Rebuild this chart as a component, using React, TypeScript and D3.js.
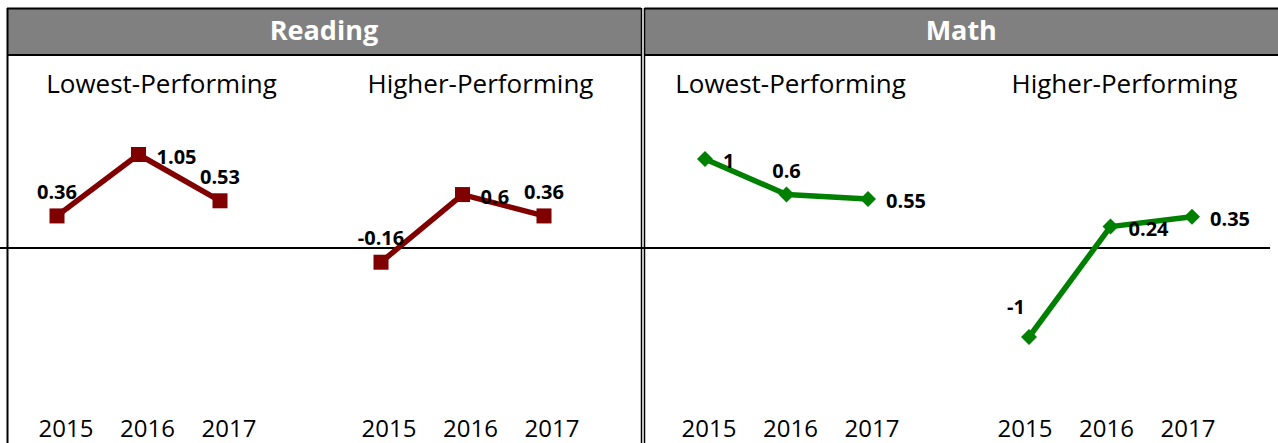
import React from "react";
import * as d3 from "d3";

const years = ["2015", "2016", "2017"];
const subjects = ["Reading", "Math"];
const groups = ["Lowest-Performing", "Higher-Performing"];
const readingLowest = [0.36, 1.05, 0.53];
const readingHigher = [-0.16, 0.6, 0.36];
const mathLowest = [1, 0.6, 0.55];
const mathHigher = [-1, 0.24, 0.35];

const panels = [
  { subject: 0, group: 0, values: readingLowest, place: ["above", "right", "above"], titleDx: 23, yearDx: 9 },
  { subject: 0, group: 1, values: readingHigher, place: ["above", "right", "above"], titleDx: 18, yearDx: 8 },
  { subject: 1, group: 0, values: mathLowest, place: ["right", "above", "right"], titleDx: 4, yearDx: 4 },
  { subject: 1, group: 1, values: mathHigher, place: ["aboveLeft", "right", "right"], titleDx: 14, yearDx: -4 },
];

const W = 1278;
const H = 443;
const FONT = "'Open Sans', 'DejaVu Sans', sans-serif";
const colors = ["#800000", "#008000"];

export default function App() {
  const y = d3.scaleLinear().domain([-1, 1.05]).range([337, 154.5]);
  const panelX = (i: number) =>
    d3.scalePoint<string>().domain(years).range([57 + 324 * i, 57 + 324 * i + 163]);
  const headerX = [
    [7, 641],
    [644.5, 1278],
  ];
  const y0 = y(0);

  const labelPos = (place: string, cx: number, cy: number) => {
    if (place === "above") return { x: cx, y: cy - 17, anchor: "middle" };
    if (place === "aboveLeft") return { x: cx - 13, y: cy - 23, anchor: "middle" };
    return { x: cx + 18, y: cy + 9, anchor: "start" };
  };

  return (
    <svg width={W} height={H} style={{ position: "absolute", left: 0, top: 0, background: "#fff" }}>
      {subjects.map((s, i) => (
        <g key={s}>
          <rect x={headerX[i][0]} y={8} width={headerX[i][1] - headerX[i][0]} height={47} fill="#808080" />
          <line x1={headerX[i][0]} x2={headerX[i][1]} y1={8.5} y2={8.5} stroke="#000" strokeWidth={2} />
          <line x1={headerX[i][0]} x2={headerX[i][1]} y1={55} y2={55} stroke="#000" strokeWidth={2} />
          <text
            x={(headerX[i][0] + headerX[i][1]) / 2}
            y={40}
            textAnchor="middle"
            fill="#fff"
            fontFamily={FONT}
            fontWeight="bold"
            fontSize={27}
          >
            {s}
          </text>
        </g>
      ))}
      <line x1={7.5} x2={7.5} y1={8} y2={H} stroke="#000" strokeWidth={2} />
      <line x1={641.5} x2={641.5} y1={8} y2={H} stroke="#000" strokeWidth={1.5} />
      <line x1={644.5} x2={644.5} y1={8} y2={H} stroke="#000" strokeWidth={1.5} />
      <line x1={0} x2={1270} y1={y0} y2={y0} stroke="#000" strokeWidth={2} />

      {panels.map((p, i) => {
        const x = panelX(i);
        const color = colors[p.subject];
        const line = d3
          .line<number>()
          .x((_, j) => x(years[j]) as number)
          .y((v) => y(v));
        const mid = x(years[1]) as number;
        return (
          <g key={i}>
            <text
              x={mid + p.titleDx}
              y={93}
              textAnchor="middle"
              fontFamily={FONT}
              fontSize={26}
              fill="#000"
            >
              {groups[p.group]}
            </text>
            <path d={line(p.values) || ""} fill="none" stroke={color} strokeWidth={5.5} strokeLinejoin="round" />
            {p.values.map((v, j) => {
              const cx = x(years[j]) as number;
              const cy = y(v);
              return p.subject === 0 ? (
                <rect key={j} x={cx - 7.5} y={cy - 7.5} width={15} height={15} fill={color} />
              ) : (
                <path key={j} d={`M${cx},${cy - 8}L${cx + 8},${cy}L${cx},${cy + 8}L${cx - 8},${cy}Z`} fill={color} />
              );
            })}
            {p.values.map((v, j) => {
              const cx = x(years[j]) as number;
              const cy = y(v);
              const lp = labelPos(p.place[j], cx, cy);
              return (
                <text
                  key={"l" + j}
                  x={lp.x}
                  y={lp.y}
                  textAnchor={lp.anchor as any}
                  fontFamily={FONT}
                  fontWeight="bold"
                  fontSize={20}
                  fill="#000"
                >
                  {String(v)}
                </text>
              );
            })}
            {years.map((yr) => (
              <text
                key={yr}
                x={(x(yr) as number) + p.yearDx}
                y={437}
                textAnchor="middle"
                fontFamily={FONT}
                fontSize={24}
                fill="#000"
              >
                {yr}
              </text>
            ))}
          </g>
        );
      })}
    </svg>
  );
}
